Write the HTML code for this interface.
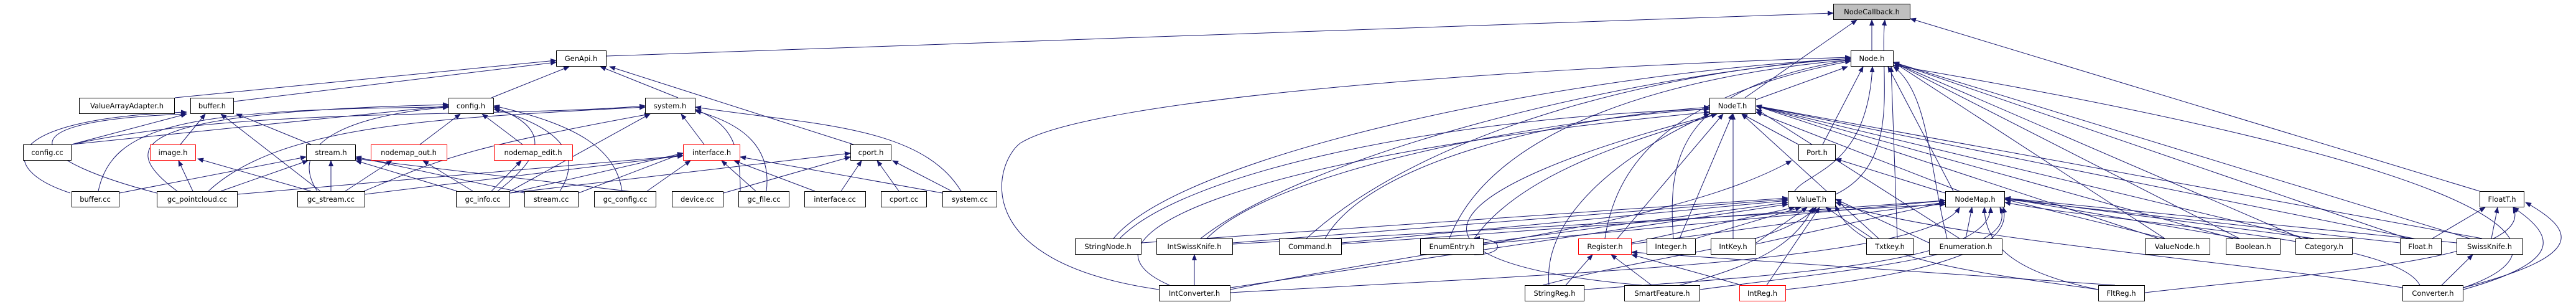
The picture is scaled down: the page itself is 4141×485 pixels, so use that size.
<!DOCTYPE html>
<html><head><meta charset="utf-8"><style>
html,body{margin:0;padding:0;background:#fff;}
svg{display:block;}
text{font-family:"DejaVu Sans","Liberation Sans",sans-serif;font-size:11.5px;fill:#000;}
.n{fill:#fff;stroke:#000;stroke-width:1;}
.r{fill:#fff;stroke:#ff0000;stroke-width:1;}
.g{fill:#bfbfbf;stroke:#000;stroke-width:1;}
.e path{fill:none;stroke:#191970;stroke-width:1;marker-end:url(#a);}
</style></head><body>
<svg width="4141" height="485" viewBox="0 0 4141 485" xmlns="http://www.w3.org/2000/svg">
<defs><marker id="a" markerWidth="10" markerHeight="8" refX="9" refY="4" orient="auto" markerUnits="userSpaceOnUse"><path d="M0,0 L10,4 L0,8 z" fill="#191970"/></marker></defs>
<g class="e">
<path d="M975,90 L2947,21"/>
<path d="M281,157 L894,97"/>
<path d="M376,163 L894,100"/>
<path d="M790,157 L915,107"/>
<path d="M1090,157 L965,107"/>
<path d="M1372,232 L980,107"/>
<path d="M115,232 L300,183"/>
<path d="M290,232 L330,183"/>
<path d="M500,232 L380,183"/>
<path d="M113,310 C-10,270 0,190 300,180"/>
<path d="M252,310 C60,260 -20,195 300,183"/>
<path d="M515,307 L355,183"/>
<path d="M115,232 L721,170"/>
<path d="M675,232 L740,183"/>
<path d="M840,232 L775,183"/>
<path d="M158,307 C180,200 300,175 721,172"/>
<path d="M285,307 C180,230 220,180 721,168"/>
<path d="M510,307 C460,230 560,185 721,172"/>
<path d="M800,307 C860,260 900,210 794,172"/>
<path d="M900,307 C930,260 920,210 794,175"/>
<path d="M1000,307 C990,240 930,200 794,170"/>
<path d="M115,232 C400,170 800,190 1037,170"/>
<path d="M335,307 C450,200 700,190 1037,172"/>
<path d="M585,307 C700,260 730,240 1045,183"/>
<path d="M820,307 L1045,183"/>
<path d="M1132,232 L1095,183"/>
<path d="M1190,307 C1190,240 1180,200 1118,176"/>
<path d="M1232,307 C1240,240 1200,200 1118,178"/>
<path d="M1545,307 C1480,200 1300,200 1118,172"/>
<path d="M310,307 L287,258"/>
<path d="M500,307 L318,255"/>
<path d="M192,310 L492,252"/>
<path d="M355,307 L495,258"/>
<path d="M532,307 L532,258"/>
<path d="M735,307 L572,258"/>
<path d="M843,310 L572,252"/>
<path d="M1050,312 L572,255"/>
<path d="M555,307 L630,258"/>
<path d="M760,307 L680,258"/>
<path d="M790,307 L838,258"/>
<path d="M382,312 L1098,250"/>
<path d="M587,312 L1098,250"/>
<path d="M820,310 L1098,246"/>
<path d="M930,310 L1098,246"/>
<path d="M1040,307 L1110,258"/>
<path d="M1215,307 L1160,258"/>
<path d="M1310,307 L1180,258"/>
<path d="M1515,310 L1190,252"/>
<path d="M1163,310 L1367,252"/>
<path d="M820,310 L1367,246"/>
<path d="M1352,307 L1385,258"/>
<path d="M1445,307 L1410,258"/>
<path d="M1530,307 L1435,258"/>
<path d="M3009,81 L3009,32"/>
<path d="M2805,157 L2985,32"/>
<path d="M2951,312 C3060,260 3020,120 3030,32"/>
<path d="M3986,307 L3071,30"/>
<path d="M2823,160 L2970,107"/>
<path d="M2930,232 L2995,107"/>
<path d="M2880,330 C2870,270 3000,300 3010,107"/>
<path d="M3140,307 L3035,107"/>
<path d="M2580,383 C2600,250 2700,150 2975,98"/>
<path d="M2690,383 C2680,250 2700,140 2975,96"/>
<path d="M3050,383 L3040,107"/>
<path d="M3130,383 C3100,260 3100,150 3044,107"/>
<path d="M3480,383 L3044,100"/>
<path d="M3600,383 L3044,100"/>
<path d="M3700,383 L3044,100"/>
<path d="M3870,383 L3044,100"/>
<path d="M3970,383 L3044,100"/>
<path d="M3960,462 C4200,380 3900,250 3044,105"/>
<path d="M1790,383 C1900,250 2500,120 2975,94"/>
<path d="M1930,383 C2100,250 2600,120 2975,94"/>
<path d="M2100,383 C2300,200 2700,110 2975,94"/>
<path d="M2330,383 C2400,200 2700,120 2975,96"/>
<path d="M1863,465 C1550,420 1600,260 1640,230 C1750,160 2400,110 2975,92"/>
<path d="M1800,383 C1900,280 2300,190 2748,175"/>
<path d="M1940,383 C2050,270 2500,190 2748,175"/>
<path d="M2130,383 C2200,260 2500,190 2748,172"/>
<path d="M2370,383 C2450,270 2650,220 2760,183"/>
<path d="M2600,383 L2770,183"/>
<path d="M2700,383 L2785,183"/>
<path d="M2786,383 L2786,183"/>
<path d="M2891,232 L2800,183"/>
<path d="M3020,383 L2800,183"/>
<path d="M3150,307 L2823,180"/>
<path d="M3470,383 L2823,170"/>
<path d="M3590,383 L2823,170"/>
<path d="M3710,383 L2823,170"/>
<path d="M3880,383 L2823,170"/>
<path d="M3990,383 L2823,170"/>
<path d="M3150,383 L2823,175"/>
<path d="M1880,458 C1700,380 2000,250 2748,180"/>
<path d="M2640,458 C2200,420 2300,300 2760,183"/>
<path d="M2490,458 C2480,350 2600,250 2748,183"/>
<path d="M2157,390 L2874,322"/>
<path d="M1835,390 L2874,318"/>
<path d="M1982,390 L2874,320"/>
<path d="M2385,390 L2874,325"/>
<path d="M2623,390 L2885,333"/>
<path d="M2726,383 L2895,333"/>
<path d="M2823,390 L2905,333"/>
<path d="M3010,383 L2935,333"/>
<path d="M2480,458 C2700,400 2850,400 2920,333"/>
<path d="M2700,458 C2850,420 2890,380 2915,333"/>
<path d="M2840,458 L2925,333"/>
<path d="M1978,462 L2874,328"/>
<path d="M3373,465 C3200,440 2980,420 2951,330"/>
<path d="M3862,462 C3600,420 3100,380 2951,325"/>
<path d="M3101,390 L2951,320"/>
<path d="M1978,465 C2300,400 2700,360 2880,258"/>
<path d="M3127,310 L2951,255"/>
<path d="M2157,392 L3127,322"/>
<path d="M2385,392 L3127,322"/>
<path d="M2623,392 L3127,325"/>
<path d="M2823,392 L3127,325"/>
<path d="M3160,383 L3170,333"/>
<path d="M3480,383 L3223,320"/>
<path d="M3600,383 L3223,318"/>
<path d="M3720,383 L3223,318"/>
<path d="M3858,390 L3223,320"/>
<path d="M3949,390 L3223,318"/>
<path d="M3890,458 C3850,380 3400,360 3223,325"/>
<path d="M2547,465 C2900,440 3200,420 3200,333"/>
<path d="M2733,465 C3000,430 3250,410 3215,333"/>
<path d="M2871,465 C3100,440 3240,400 3220,333"/>
<path d="M3373,465 C3250,440 3190,400 3190,333"/>
<path d="M1982,392 L3127,328"/>
<path d="M1978,470 C2500,440 3100,420 3150,333"/>
<path d="M3910,383 L3995,333"/>
<path d="M4005,383 L4015,333"/>
<path d="M3960,465 C4120,420 4110,380 4040,333"/>
<path d="M3960,462 C4160,410 4140,370 4060,325"/>
<path d="M3448,470 C3700,440 4080,420 4040,333"/>
<path d="M3925,458 L3975,409"/>
<path d="M1920,458 L1920,409"/>
<path d="M2517,458 L2560,409"/>
<path d="M2655,458 L2590,409"/>
<path d="M2800,458 L2623,409"/>
<path d="M3400,458 L2623,405"/>
<path d="M2370,409 C2420,409 2420,383 2370,383"/>
</g>
<g>
<rect class="g" x="2947.5" y="6.5" width="123" height="25"/><text x="3009" y="23" text-anchor="middle">NodeCallback.h</text>
<rect class="n" x="894.5" y="81.5" width="80" height="25"/><text x="934" y="98" text-anchor="middle">GenApi.h</text>
<rect class="n" x="2975.5" y="81.5" width="68" height="25"/><text x="3009" y="98" text-anchor="middle">Node.h</text>
<rect class="n" x="127.5" y="157.5" width="153" height="25"/><text x="204" y="174" text-anchor="middle">ValueArrayAdapter.h</text>
<rect class="n" x="306.5" y="157.5" width="69" height="25"/><text x="341" y="174" text-anchor="middle">buffer.h</text>
<rect class="n" x="721.5" y="157.5" width="72" height="25"/><text x="757" y="174" text-anchor="middle">config.h</text>
<rect class="n" x="1037.5" y="157.5" width="80" height="25"/><text x="1077" y="174" text-anchor="middle">system.h</text>
<rect class="n" x="2748.5" y="157.5" width="74" height="25"/><text x="2785" y="174" text-anchor="middle">NodeT.h</text>
<rect class="n" x="37.5" y="232.5" width="77" height="25"/><text x="76" y="249" text-anchor="middle">config.cc</text>
<rect class="r" x="241.5" y="232.5" width="73" height="25"/><text x="278" y="249" text-anchor="middle">image.h</text>
<rect class="n" x="492.5" y="232.5" width="79" height="25"/><text x="532" y="249" text-anchor="middle">stream.h</text>
<rect class="r" x="596.5" y="232.5" width="122" height="25"/><text x="657" y="249" text-anchor="middle">nodemap_out.h</text>
<rect class="r" x="794.5" y="232.5" width="126" height="25"/><text x="857" y="249" text-anchor="middle">nodemap_edit.h</text>
<rect class="r" x="1098.5" y="232.5" width="91" height="25"/><text x="1144" y="249" text-anchor="middle">interface.h</text>
<rect class="n" x="1367.5" y="232.5" width="65" height="25"/><text x="1400" y="249" text-anchor="middle">cport.h</text>
<rect class="n" x="2891.5" y="232.5" width="59" height="25"/><text x="2921" y="249" text-anchor="middle">Port.h</text>
<rect class="n" x="115.5" y="307.5" width="76" height="25"/><text x="153" y="324" text-anchor="middle">buffer.cc</text>
<rect class="n" x="252.5" y="307.5" width="129" height="25"/><text x="317" y="324" text-anchor="middle">gc_pointcloud.cc</text>
<rect class="n" x="478.5" y="307.5" width="108" height="25"/><text x="532" y="324" text-anchor="middle">gc_stream.cc</text>
<rect class="n" x="733.5" y="307.5" width="86" height="25"/><text x="776" y="324" text-anchor="middle">gc_info.cc</text>
<rect class="n" x="843.5" y="307.5" width="86" height="25"/><text x="886" y="324" text-anchor="middle">stream.cc</text>
<rect class="n" x="955.5" y="307.5" width="99" height="25"/><text x="1005" y="324" text-anchor="middle">gc_config.cc</text>
<rect class="n" x="1080.5" y="307.5" width="82" height="25"/><text x="1121" y="324" text-anchor="middle">device.cc</text>
<rect class="n" x="1187.5" y="307.5" width="81" height="25"/><text x="1228" y="324" text-anchor="middle">gc_file.cc</text>
<rect class="n" x="1293.5" y="307.5" width="98" height="25"/><text x="1342" y="324" text-anchor="middle">interface.cc</text>
<rect class="n" x="1416.5" y="307.5" width="73" height="25"/><text x="1453" y="324" text-anchor="middle">cport.cc</text>
<rect class="n" x="1515.5" y="307.5" width="87" height="25"/><text x="1559" y="324" text-anchor="middle">system.cc</text>
<rect class="n" x="2874.5" y="307.5" width="76" height="25"/><text x="2912" y="324" text-anchor="middle">ValueT.h</text>
<rect class="n" x="3127.5" y="307.5" width="95" height="25"/><text x="3175" y="324" text-anchor="middle">NodeMap.h</text>
<rect class="n" x="3986.5" y="307.5" width="71" height="25"/><text x="4022" y="324" text-anchor="middle">FloatT.h</text>
<rect class="n" x="1728.5" y="383.5" width="106" height="25"/><text x="1781" y="400" text-anchor="middle">StringNode.h</text>
<rect class="n" x="1859.5" y="383.5" width="122" height="25"/><text x="1920" y="400" text-anchor="middle">IntSwissKnife.h</text>
<rect class="n" x="2056.5" y="383.5" width="100" height="25"/><text x="2106" y="400" text-anchor="middle">Command.h</text>
<rect class="n" x="2283.5" y="383.5" width="101" height="25"/><text x="2334" y="400" text-anchor="middle">EnumEntry.h</text>
<rect class="r" x="2537.5" y="383.5" width="85" height="25"/><text x="2580" y="400" text-anchor="middle">Register.h</text>
<rect class="n" x="2647.5" y="383.5" width="78" height="25"/><text x="2686" y="400" text-anchor="middle">Integer.h</text>
<rect class="n" x="2750.5" y="383.5" width="72" height="25"/><text x="2786" y="400" text-anchor="middle">IntKey.h</text>
<rect class="n" x="3000.5" y="383.5" width="76" height="25"/><text x="3038" y="400" text-anchor="middle">Txtkey.h</text>
<rect class="n" x="3101.5" y="383.5" width="117" height="25"/><text x="3160" y="400" text-anchor="middle">Enumeration.h</text>
<rect class="n" x="3448.5" y="383.5" width="104" height="25"/><text x="3500" y="400" text-anchor="middle">ValueNode.h</text>
<rect class="n" x="3578.5" y="383.5" width="87" height="25"/><text x="3622" y="400" text-anchor="middle">Boolean.h</text>
<rect class="n" x="3690.5" y="383.5" width="91" height="25"/><text x="3736" y="400" text-anchor="middle">Category.h</text>
<rect class="n" x="3858.5" y="383.5" width="66" height="25"/><text x="3891" y="400" text-anchor="middle">Float.h</text>
<rect class="n" x="3949.5" y="383.5" width="106" height="25"/><text x="4002" y="400" text-anchor="middle">SwissKnife.h</text>
<rect class="n" x="1863.5" y="458.5" width="114" height="25"/><text x="1920" y="475" text-anchor="middle">IntConverter.h</text>
<rect class="n" x="2451.5" y="458.5" width="95" height="25"/><text x="2499" y="475" text-anchor="middle">StringReg.h</text>
<rect class="n" x="2611.5" y="458.5" width="121" height="25"/><text x="2672" y="475" text-anchor="middle">SmartFeature.h</text>
<rect class="r" x="2796.5" y="458.5" width="74" height="25"/><text x="2833" y="475" text-anchor="middle">IntReg.h</text>
<rect class="n" x="3373.5" y="458.5" width="74" height="25"/><text x="3410" y="475" text-anchor="middle">FltReg.h</text>
<rect class="n" x="3862.5" y="458.5" width="97" height="25"/><text x="3911" y="475" text-anchor="middle">Converter.h</text>
</g>
</svg>
</body></html>
